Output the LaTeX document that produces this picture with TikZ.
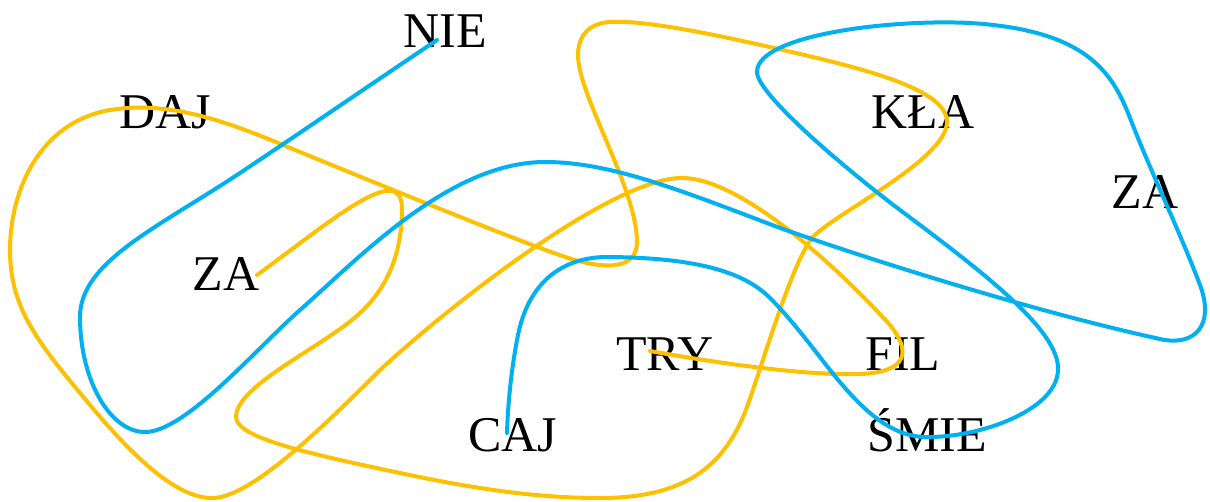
\documentclass[tikz,border=0pt]{standalone}
\usepackage{fontspec}
\setmainfont{Liberation Serif}
\definecolor{gold}{HTML}{FFC000}
\definecolor{sky}{HTML}{00B0F0}
\begin{document}
\begin{tikzpicture}[x=1pt,y=-1pt,
  word/.style={font=\fontsize{50}{60}\selectfont, inner sep=0pt, anchor=base},
  curve/.style={line width=4pt, line cap=round, line join=round}]
\useasboundingbox (0,0) rectangle (1210,501);
\node[word] (nie) at (445,47) {NIE};
\node[word] (daj) at (165,128) {DAJ};
\node[word] (kla) at (923,128) {KŁA};
\node[word] (zaR) at (1145,208) {ZA};
\node[word] (zaL) at (226,290) {ZA};
\node[word] (try) at (665,370) {TRY};
\node[word] (fil) at (903,370) {FIL};
\node[word] (caj) at (513,451) {CAJ};
\node[word] (smie) at (927,451) {ŚMIE};
\coordinate (yS) at (257,275);
\coordinate (yE) at (650,351);
\coordinate (bS) at (437,40);
\coordinate (bE) at (507,433);
\draw[curve, gold] (yS)
  .. controls (330,222) and (401,160) .. (402,208)
  .. controls (402,250) and (390,285) .. (360,313)
  .. controls (325,346) and (236,385) .. (236,417)
  .. controls (237,436) and (290,450) .. (400,473)
  .. controls (480,490) and (540,498) .. (600,498)
  .. controls (680,498) and (720,470) .. (743,417)
  .. controls (755,390) and (790,265) .. (812,238)
  .. controls (830,216) and (947,160) .. (947,122)
  .. controls (947,90) and (870,70) .. (783,50)
  .. controls (700,31) and (640,20) .. (610,22)
  .. controls (590,23) and (578,35) .. (578,55)
  .. controls (578,95) and (635,185) .. (637,240)
  .. controls (638,268) and (610,270) .. (575,260)
  .. controls (545,252) and (380,185) .. (283,145)
  .. controls (230,123) and (170,100) .. (110,110)
  .. controls (40,122) and (10,190) .. (10,250)
  .. controls (10,310) and (40,345) .. (90,405)
  .. controls (140,465) and (180,498) .. (212,498)
  .. controls (250,498) and (320,430) .. (380,370)
  .. controls (450,305) and (610,180) .. (680,178)
  .. controls (740,176) and (840,270) .. (890,325)
  .. controls (910,350) and (910,372) .. (860,374)
  .. controls (800,376) and (700,360) .. (yE);
\draw[curve, sky] (bS)
  .. controls (370,85) and (300,133) .. (240,173)
  .. controls (157,228) and (80,262) .. (80,317)
  .. controls (80,380) and (110,432) .. (145,432)
  .. controls (185,432) and (255,350) .. (300,310)
  .. controls (360,257) and (450,162) .. (545,162)
  .. controls (610,162) and (680,190) .. (780,228)
  .. controls (900,270) and (1050,315) .. (1160,339)
  .. controls (1195,347) and (1215,325) .. (1200,285)
  .. controls (1180,232) and (1150,170) .. (1130,118)
  .. controls (1112,71) and (1085,30) .. (970,23)
  .. controls (890,19) and (757,35) .. (757,72)
  .. controls (757,95) and (852,174) .. (900,210)
  .. controls (980,270) and (1060,330) .. (1058,370)
  .. controls (1057,410) and (980,438) .. (925,437)
  .. controls (890,436) and (862,410) .. (830,370)
  .. controls (805,338) and (790,318) .. (770,298)
  .. controls (745,273) and (700,258) .. (610,257)
  .. controls (560,256) and (528,285) .. (518,335)
  .. controls (512,365) and (508,400) .. (bE);
\end{tikzpicture}
\end{document}
